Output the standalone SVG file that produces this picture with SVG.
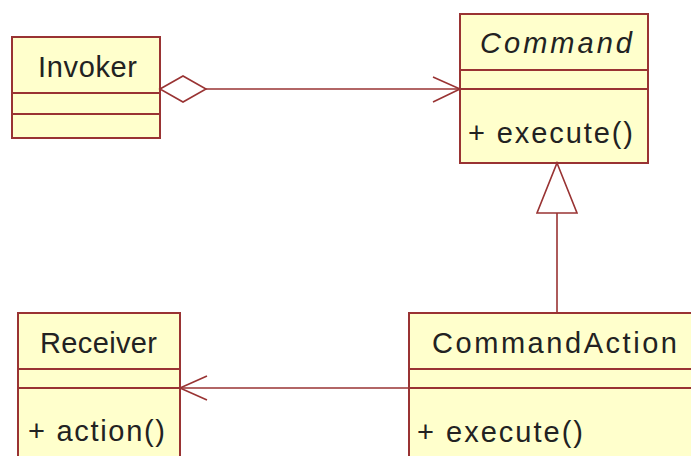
<svg xmlns="http://www.w3.org/2000/svg" width="691" height="456" viewBox="0 0 691 456">
<style>
.box{fill:#ffffcc;stroke:#993333;stroke-width:2}
.sep{stroke:#993333;stroke-width:2}
.t{font-family:"Liberation Sans",Arial,sans-serif;font-size:29px;fill:#222}
.it{font-style:italic}
.c{fill:none;stroke:#993333;stroke-width:1.6}
</style>
<rect width="691" height="456" fill="#fff"/>
<g id="Invoker">
<rect class="box" x="12" y="37" width="148" height="101"/>
<line class="sep" x1="12" y1="93" x2="160" y2="93"/>
<line class="sep" x1="12" y1="114" x2="160" y2="114"/>
<text class="t" x="38" y="77" textLength="99">Invoker</text>
</g>
<g id="Command">
<rect class="box" x="460" y="14" width="188" height="149"/>
<line class="sep" x1="460" y1="70" x2="648" y2="70"/>
<line class="sep" x1="460" y1="89" x2="648" y2="89"/>
<text class="t it" x="480" y="53" textLength="152">Command</text>
<text class="t" x="468" y="143" textLength="165">+ execute()</text>
</g>
<g id="Receiver">
<rect class="box" x="18" y="313" width="162" height="160"/>
<line class="sep" x1="18" y1="369" x2="180" y2="369"/>
<line class="sep" x1="18" y1="388" x2="180" y2="388"/>
<text class="t" x="40" y="353" textLength="117">Receiver</text>
<text class="t" x="28" y="441" textLength="137">+ action()</text>
</g>
<g id="CommandAction">
<rect class="box" x="409" y="313" width="300" height="160"/>
<line class="sep" x1="409" y1="369" x2="709" y2="369"/>
<line class="sep" x1="409" y1="388" x2="709" y2="388"/>
<text class="t" x="432" y="353" textLength="245">CommandAction</text>
<text class="t" x="417" y="442" textLength="166">+ execute()</text>
</g>
<g id="connectors">
<path class="c" d="M160 89 L183 76 L206 89 L183 102 Z" fill="#fff"/>
<line class="c" x1="206" y1="89" x2="460" y2="89"/>
<polyline class="c" points="433,77 460,89 433,102"/>
<line class="c" x1="557" y1="213" x2="557" y2="313"/>
<path class="c" d="M557 163 L577 213 L537 213 Z" fill="#fff"/>
<line class="c" x1="180" y1="388" x2="409" y2="388"/>
<polyline class="c" points="207,376 180,388 207,400"/>
</g>
</svg>
